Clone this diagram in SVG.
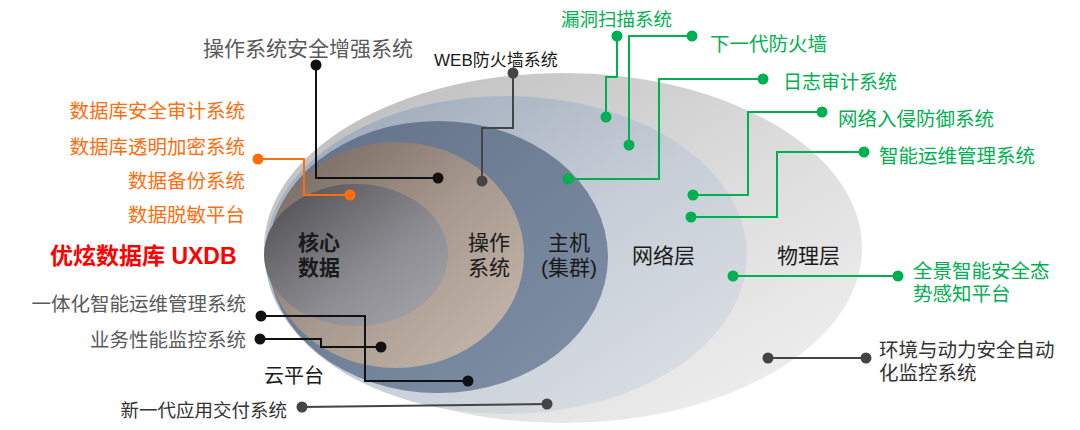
<svg xmlns="http://www.w3.org/2000/svg" width="1080" height="430" viewBox="0 0 1080 430">
<style>
text{font-family:"Liberation Sans","Noto Sans CJK SC",sans-serif}
.g{fill:#00b050;font-size:19.5px}
.o{fill:#ff6d0d;font-size:19.5px}
.gr{fill:#5a5a5a;font-size:19.5px}
.k{fill:#1a1a1a;font-size:21px}
.kb{fill:#1a1a1a;font-size:21px;font-weight:bold}
.ln{fill:none;stroke-width:2}
.lg{stroke:#00b050}
.lo{stroke:#ff6d0d}
.lk{stroke:#111}
.ld{stroke:#444}
.dg{fill:#00b050}
.do{fill:#ff6d0d}
.dk{fill:#111}
.dd{fill:#444}
</style>
<defs>
<linearGradient id="gOuter" x1="0" y1="0" x2="1" y2="1"><stop offset="0" stop-color="#b9b9b9"/><stop offset="0.5" stop-color="#dadada"/><stop offset="1" stop-color="#f3f3f3"/></linearGradient>
<linearGradient id="gNet" x1="0" y1="0" x2="1" y2="1"><stop offset="0" stop-color="#96a3b5"/><stop offset="0.55" stop-color="#c8cfd8"/><stop offset="1" stop-color="#dfe2e7"/></linearGradient>
<linearGradient id="gHost" x1="0" y1="0" x2="1" y2="1"><stop offset="0" stop-color="#627189"/><stop offset="1" stop-color="#8090a6"/></linearGradient>
<linearGradient id="gOS" x1="0" y1="0" x2="1" y2="1"><stop offset="0" stop-color="#6f625b"/><stop offset="0.5" stop-color="#a8998e"/><stop offset="1" stop-color="#c9bbb0"/></linearGradient>
<linearGradient id="gCore" x1="0" y1="0" x2="1" y2="1"><stop offset="0" stop-color="#49494d"/><stop offset="0.6" stop-color="#8d8d93"/><stop offset="1" stop-color="#a6a6ac"/></linearGradient>
</defs>

<g id="layers">
<ellipse id="layer-physical" cx="563" cy="248" rx="299" ry="175" fill="url(#gOuter)"/>
<ellipse id="layer-network" cx="506" cy="255" rx="241" ry="159" fill="url(#gNet)"/>
<ellipse id="layer-host" cx="438" cy="257" rx="170" ry="136" fill="url(#gHost)"/>
<ellipse id="layer-os" cx="396" cy="255" rx="128" ry="113" fill="url(#gOS)"/>
<ellipse id="layer-core" cx="356" cy="255" rx="92" ry="71" fill="url(#gCore)"/>
</g>

<g id="connectors">
<polyline class="ln lk" points="316,65 316,178 438,178"/>
<polyline class="ln ld" points="513,73 513,128 482,128 482,181"/>
<polyline class="ln lo" points="258,159 304,159 304,195 350,195"/>
<polyline class="ln lg" points="617,36 617,77 606,77 606,117"/>
<polyline class="ln lg" points="692,36 629,36 629,145"/>
<polyline class="ln lg" points="763,79 659,79 659,179 568,179"/>
<polyline class="ln lg" points="822,112 748,112 748,195 693,195"/>
<polyline class="ln lg" points="864,152 777,152 777,217 691,217"/>
<line class="ln lg" x1="733" y1="276" x2="898" y2="276"/>
<line class="ln ld" x1="768" y1="358" x2="866" y2="358"/>
<polyline class="ln lk" points="261,316 365,316 365,381 468,381"/>
<polyline class="ln lk" points="260,339 321,339 321,347 381,347"/>
<line class="ln ld" x1="302" y1="407" x2="547" y2="404"/>
<g id="dots">
<circle class="dk" cx="316" cy="65" r="5.5"/><circle class="dk" cx="438" cy="178" r="5.5"/>
<circle class="dd" cx="513" cy="73" r="5.5"/><circle class="dd" cx="482" cy="181" r="5.5"/>
<circle class="do" cx="258" cy="159" r="5.5"/><circle class="do" cx="350" cy="195" r="5.5"/>
<circle class="dg" cx="617" cy="36" r="5.5"/><circle class="dg" cx="606" cy="117" r="5.5"/>
<circle class="dg" cx="692" cy="36" r="5.5"/><circle class="dg" cx="629" cy="145" r="5.5"/>
<circle class="dg" cx="763" cy="79" r="5.5"/><circle class="dg" cx="568" cy="179" r="5.5"/>
<circle class="dg" cx="822" cy="112" r="5.5"/><circle class="dg" cx="693" cy="195" r="5.5"/>
<circle class="dg" cx="864" cy="152" r="5.5"/><circle class="dg" cx="691" cy="217" r="5.5"/>
<circle class="dg" cx="733" cy="276" r="5.5"/><circle class="dg" cx="898" cy="276" r="5.5"/>
<circle class="dd" cx="768" cy="358" r="5.5"/><circle class="dd" cx="866" cy="358" r="5.5"/>
<circle class="dk" cx="261" cy="316" r="5.5"/><circle class="dk" cx="468" cy="381" r="5.5"/>
<circle class="dk" cx="260" cy="339" r="5.5"/><circle class="dk" cx="381" cy="347" r="5.5"/>
<circle class="dd" cx="302" cy="407" r="5.5"/><circle class="dd" cx="547" cy="404" r="5.5"/>
</g>
</g>

<g id="layer-labels">
<text class="kb" x="298" y="250">核心</text>
<text class="kb" x="298" y="275">数据</text>
<text class="k" x="468" y="250">操作</text>
<text class="k" x="468" y="275">系统</text>
<text class="k" x="569" y="250" text-anchor="middle">主机</text>
<text class="k" x="569" y="275" text-anchor="middle">(集群)</text>
<text class="k" x="632" y="263">网络层</text>
<text class="k" x="777" y="263">物理层</text>
<text class="k" x="264" y="383" style="font-size:20px">云平台</text>
</g>

<g id="label-os-enhance"><text class="gr" x="308" y="56" text-anchor="middle" style="font-size:21px">操作系统安全增强系统</text></g>
<g id="label-waf"><text x="434" y="66" style="font-size:17px;fill:#1a1a1a">WEB防火墙系统</text></g>
<g id="label-db-audit"><text class="o" x="245" y="118" text-anchor="end">数据库安全审计系统</text></g>
<g id="label-db-encrypt"><text class="o" x="245" y="154" text-anchor="end">数据库透明加密系统</text></g>
<g id="label-db-backup"><text class="o" x="245" y="188" text-anchor="end">数据备份系统</text></g>
<g id="label-db-mask"><text class="o" x="245" y="222" text-anchor="end">数据脱敏平台</text></g>
<g id="label-uxdb"><text x="50" y="264" style="font-size:23px;font-weight:bold;fill:#ff0000">优炫数据库 UXDB</text></g>
<g id="label-ops"><text class="gr" x="246" y="311" text-anchor="end">一体化智能运维管理系统</text></g>
<g id="label-apm"><text class="gr" x="246" y="347" text-anchor="end">业务性能监控系统</text></g>
<g id="label-adc"><text x="287" y="417" text-anchor="end" style="font-size:18.5px;fill:#333">新一代应用交付系统</text></g>
<g id="label-vuln"><text class="g" x="561" y="26" style="font-size:18.5px">漏洞扫描系统</text></g>
<g id="label-ngfw"><text class="g" x="710" y="51">下一代防火墙</text></g>
<g id="label-log"><text class="g" x="783" y="89" style="font-size:19px">日志审计系统</text></g>
<g id="label-ips"><text class="g" x="838" y="126">网络入侵防御系统</text></g>
<g id="label-itom"><text class="g" x="879" y="163">智能运维管理系统</text></g>
<g id="label-situation"><text class="g" x="913" y="278">全景智能安全态</text><text class="g" x="913" y="301">势感知平台</text></g>
<g id="label-env"><text x="879" y="357" style="font-size:19.5px;fill:#333">环境与动力安全自动</text><text x="879" y="380" style="font-size:19.5px;fill:#333">化监控系统</text></g>
</svg>
